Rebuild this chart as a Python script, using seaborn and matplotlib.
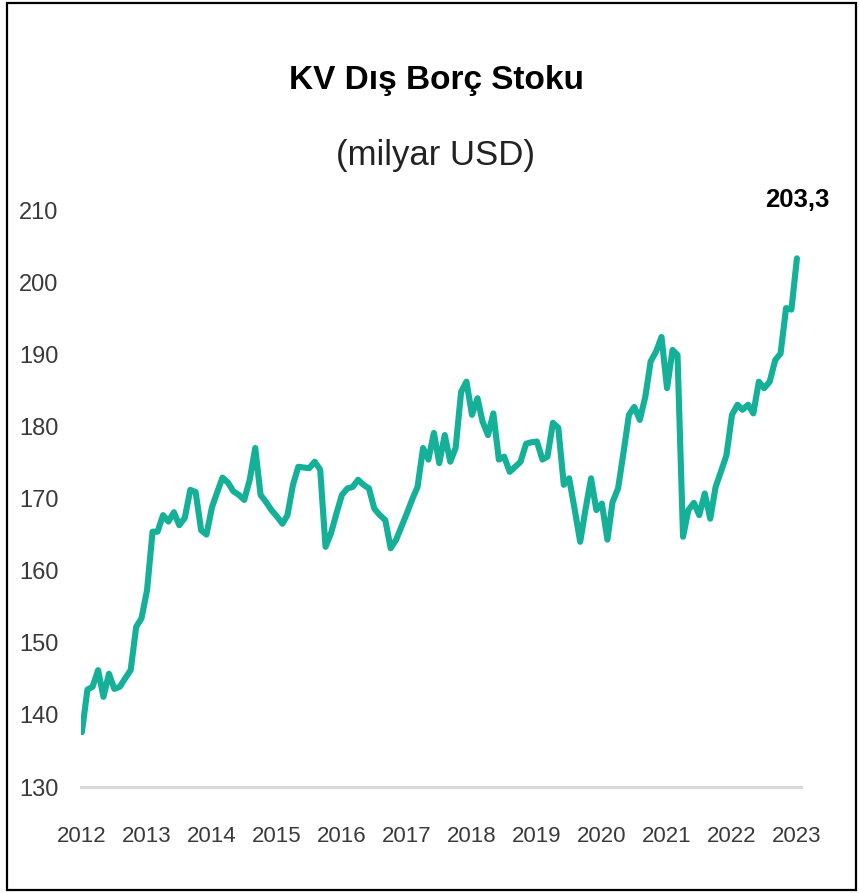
import pandas as pd
import matplotlib.pyplot as plt
import matplotlib.dates as mdates
from matplotlib.patches import Rectangle
import seaborn as sns

# ==============================================================================
# DATOS (milyar USD, aylık, Ocak 2012 - Ocak 2023)
# ==============================================================================
baslangic = '2012-01-01'
stok = [
    137.6, 143.5, 143.9, 146.2, 142.5, 145.7, 143.6, 143.9, 145.1, 146.2,  # 2012
    152.2, 153.4,
    157.3, 165.4, 165.4, 167.7, 166.8, 168.1, 166.3, 167.3, 171.2, 170.9,  # 2013
    165.6, 165.0,
    168.8, 171.0, 172.9, 172.2, 171.0, 170.5, 169.8, 172.6, 177.0, 170.5,  # 2014
    169.5, 168.4,
    167.5, 166.5, 167.7, 171.9, 174.4, 174.3, 174.2, 175.1, 174.0, 163.3,  # 2015
    165.2, 167.9,
    170.5, 171.4, 171.6, 172.6, 171.9, 171.4, 168.6, 167.7, 167.0, 163.1,  # 2016
    164.3, 166.1,
    168.0, 170.0, 171.6, 177.0, 175.4, 179.1, 174.9, 178.8, 175.1, 177.0,  # 2017
    184.8, 186.2,
    181.6, 183.9, 180.7, 178.8, 181.8, 175.4, 175.8, 173.7, 174.4, 175.1,  # 2018
    177.6, 177.8,
    177.9, 175.4, 175.8, 180.5, 179.8, 171.9, 172.8, 168.5, 164.0, 168.5,  # 2019
    172.8, 168.4,
    169.3, 164.3, 169.5, 171.4, 176.3, 181.6, 182.7, 180.9, 184.1, 189.0,  # 2020
    190.4, 192.4,
    185.3, 190.6, 189.9, 164.7, 168.4, 169.4, 167.7, 170.7, 167.2, 171.6,  # 2021
    173.8, 176.0,
    181.6, 183.0, 182.3, 183.0, 181.8, 186.2, 185.3, 186.2, 189.2, 190.1,  # 2022
    196.4, 196.2,
    203.3,                                                                  # 2023
]
yillar = list(range(2012, 2024))
y_ticks = [130, 140, 150, 160, 170, 180, 190, 200, 210]

tarih = pd.date_range(baslangic, periods=len(stok), freq='MS')
df = pd.DataFrame({'tarih': tarih, 'stok': stok})

# ==============================================================================
# ESTILO
# ==============================================================================
COLOR_LINE = '#14B097'
COLOR_TEXT = '#3A3A3A'
COLOR_AXIS = '#D9D9D9'

sns.set_theme(style="white")
plt.rcParams['font.family'] = ['Liberation Sans', 'DejaVu Sans']

fig = plt.figure(figsize=(8.6, 8.93), dpi=100)
ax = fig.add_axes([0.094, 0.1187, 0.837, 0.6461])

sns.lineplot(data=df, x='tarih', y='stok', color=COLOR_LINE, linewidth=4.4, ax=ax)

ax.set_ylim(130, 210)
ax.set_yticks(y_ticks)
ax.set_xlim(tarih[0] - pd.Timedelta(days=6), tarih[-1] + pd.Timedelta(days=21))
ax.set_xticks([pd.Timestamp(f'{y}-01-01') for y in yillar])
ax.xaxis.set_major_formatter(mdates.DateFormatter('%Y'))

ax.set_xlabel('')
ax.set_ylabel('')
ax.tick_params(axis='y', length=0, pad=16, labelsize=17, labelcolor=COLOR_TEXT)
ax.tick_params(axis='x', length=0, pad=28, labelsize=16, labelcolor=COLOR_TEXT)
ax.grid(False)
for lado in ['left', 'right', 'top']:
    ax.spines[lado].set_visible(False)
ax.spines['bottom'].set_color(COLOR_AXIS)
ax.spines['bottom'].set_linewidth(2.2)

# Etiqueta del último valor
ax.annotate(f'{stok[-1]:.1f}'.replace('.', ','), xy=(tarih[-1], stok[-1]),
            xytext=(0, 42), textcoords='offset points', ha='center', va='center',
            fontsize=18.5, fontweight='bold', color='black')

# Títulos
fig.text(0.508, 0.910, 'KV Dış Borç Stoku', ha='center', va='center',
         fontsize=24, fontweight='bold', color='black')
fig.text(0.506, 0.826, '(milyar USD)', ha='center', va='center',
         fontsize=25, color='#222222')

# Marco
fig.patches.append(Rectangle((0.008, 0.003), 0.987, 0.994, transform=fig.transFigure,
                             fill=False, edgecolor='black', linewidth=1.6))

fig.savefig('out.png', dpi=100)
